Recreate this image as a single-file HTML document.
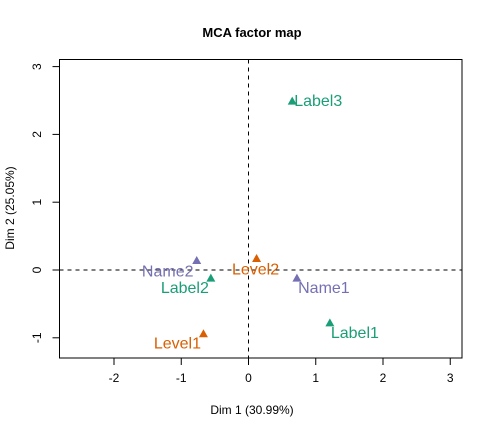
<!DOCTYPE html>
<html><head><meta charset="utf-8"><style>body{margin:0;background:#fff}svg{display:block;font-family:"Liberation Sans",Arial,sans-serif}</style></head>
<body>
<svg id="c" width="504" height="432"></svg>
<script>
const categories=["Label3","Name2","Label2","Level2","Name1","Label1","Level1"];
const dim1Values=[0.65,-0.77,-0.56,0.12,0.72,1.21,-0.67];
const dim2Values=[2.49,0.14,-0.12,0.17,-0.12,-0.78,-0.94];
const groups=["label","name","label","level","name","label","level"];
const xTicks=[-2,-1,0,1,2,3];
const yTicks=[-1,0,1,2,3];
const colors={label:"#1B9E77",name:"#7570B3",level:"#D95F02"};
const offs={Label3:[26,5,"middle"],Name2:[-29,16,"middle"],Label2:[-26,15,"middle"],Level2:[-1,16,"middle"],Name1:[27,15,"middle"],Label1:[25,15,"middle"],Level1:[-26,15,"middle"]};
const X=v=>248.5+v*67.25, Y=v=>270-v*67.8;
const L=59.5,R=462,T=59.5,B=358;
const s=document.getElementById('c');
const NS="http://www.w3.org/2000/svg";
function mk(t,a,p){const e=document.createElementNS(NS,t);for(const k in a)e.setAttribute(k,a[k]);(p||s).appendChild(e);return e;}
let e;
e=mk('text',{x:252,y:37,'text-anchor':'middle','font-size':13,'font-weight':'bold'});e.textContent="MCA factor map";


e=mk('rect',{x:L,y:T,width:R-L,height:B-T,fill:'none',stroke:'#000'});


e=mk('line',{x1:L,x2:R,y1:Y(0),y2:Y(0),stroke:'#000','stroke-dasharray':'4,4'});


e=mk('line',{x1:X(0),x2:X(0),y1:T,y2:B,stroke:'#000','stroke-dasharray':'4,4'});


xTicks.forEach(t=>{
 e=mk('line',{x1:X(t),x2:X(t),y1:B,y2:B+7,stroke:'#000'});
 
 
 e=mk('text',{x:X(t),y:B+24,'text-anchor':'middle','font-size':12});e.textContent=t;
 
 
});
yTicks.forEach(t=>{
 e=mk('line',{x1:L-7,x2:L,y1:Y(t),y2:Y(t),stroke:'#000'});
 
 
 e=mk('text',{x:0,y:0,'text-anchor':'middle','font-size':12,transform:`translate(41,${Y(t)}) rotate(-90)`});e.textContent=t;
 
 
});
e=mk('text',{x:252,y:414,'text-anchor':'middle','font-size':12});e.textContent="Dim 1 (30.99%)";


e=mk('text',{x:0,y:0,'text-anchor':'middle','font-size':12,transform:'translate(14,208) rotate(-90)'});e.textContent="Dim 2 (25.05%)";


categories.forEach((c,i)=>{
 const x=X(dim1Values[i]),y=Y(dim2Values[i]),col=colors[groups[i]];
 e=mk('polygon',{points:`${x},${y-4.5} ${x-4.5},${y+3.5} ${x+4.5},${y+3.5}`,fill:col});
 
 
 const o=offs[c];
 e=mk('text',{x:x+o[0],y:y+o[1],'text-anchor':o[2],'font-size':16,fill:col});e.textContent=c;
 
 
});
</script>
</body></html>
